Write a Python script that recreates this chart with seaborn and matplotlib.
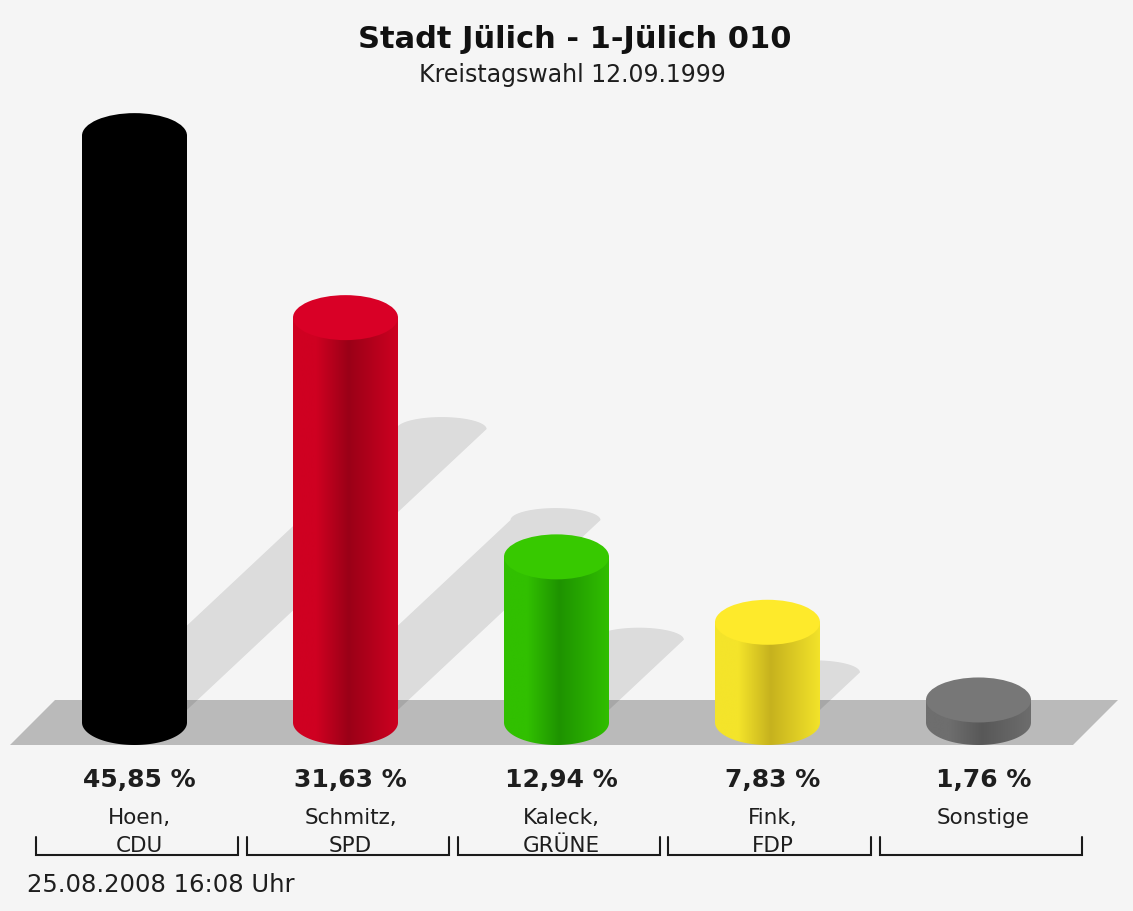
import numpy as np
import matplotlib
matplotlib.use("Agg")
import matplotlib.pyplot as plt
import seaborn as sns
import pandas as pd
from matplotlib.patches import Ellipse, Polygon, PathPatch
from matplotlib.path import Path
from matplotlib.colors import to_rgb

# ---------------- data ----------------
title = "Stadt Jülich - 1-Jülich 010"
subtitle = "Kreistagswahl 12.09.1999"
footer = "25.08.2008 16:08 Uhr"
names = ["Hoen,", "Schmitz,", "Kaleck,", "Fink,", "Sonstige"]
parties = ["CDU", "SPD", "GRÜNE", "FDP", ""]
shares = [45.85, 31.63, 12.94, 7.83, 1.76]
share_labels = ["45,85 %", "31,63 %", "12,94 %", "7,83 %", "1,76 %"]
side_colors = ["#000000", "#cf0021", "#31c000", "#f4e42a", "#6e6e6e"]
dark_colors = ["#000000", "#9a0017", "#1e9300", "#c6b21e", "#585858"]
top_colors = ["#000000", "#d90026", "#37c900", "#feea2b", "#777777"]

# ---------------- layout ----------------
BG = "#f5f5f5"
FLOOR = "#bababa"
TXT = "#1e1e1e"
W, H = 1133, 911
X0, PX = 134.5, 211.0   # pixel x of first category, pixels per category
Y0, PY = 722.5, 12.8    # pixel y of value 0, pixels per percent


def xd(px):
    return (px - X0) / PX


def yd(py):
    return (Y0 - py) / PY


sns.set_theme(style="white")
plt.rcParams["font.family"] = ["DejaVu Sans"]

fig = plt.figure(figsize=(W / 100, H / 100), dpi=100, facecolor=BG)
ax = fig.add_axes([0, 0, 1, 1])
ax.set_facecolor(BG)

keys = [f"{n} {p}".strip() for n, p in zip(names, parties)]
df = pd.DataFrame({"candidate": keys, "share": shares})
sns.barplot(data=df, x="candidate", y="share", hue="candidate",
            palette=side_colors, width=105 / PX, saturation=1,
            legend=False, ax=ax, zorder=3, linewidth=0, edgecolor="none")

bars = sorted([p for p in ax.patches], key=lambda p: p.get_x())

# floor
floor_px = [(55, 700), (1118, 700), (1073, 745), (10, 745)]
ax.add_patch(Polygon([(xd(a), yd(b)) for a, b in floor_px], closed=True,
                     facecolor=FLOOR, edgecolor="none", zorder=1))

# shadows
SLOPE = 1.067
SW = 90.0
for p in bars:
    xc = p.get_x() + p.get_width() / 2
    v = p.get_height()
    hs = 0.5 * v * PY
    c0 = X0 + xc * PX - 6           # shadow centre at value 0
    tc = c0 + SLOPE * hs
    ty = Y0 - hs
    pts = [(c0 - SW / 2, Y0), (c0 + SW / 2, Y0), (tc + SW / 2, ty)]
    t = np.linspace(0, np.pi, 50)
    pts += list(zip(tc + SW / 2 * np.cos(t), ty - 12 * np.sin(t)))
    pts += [(tc - SW / 2, ty)]
    ax.add_patch(Polygon([(xd(a), yd(b)) for a, b in pts], closed=True,
                         facecolor="black", alpha=0.1, edgecolor="none",
                         zorder=2))

# cylinders
EH = 45 / PY
for p, cs, cd, ct in zip(bars, side_colors, dark_colors, top_colors):
    xc = p.get_x() + p.get_width() / 2
    w = p.get_width()
    v = p.get_height()
    left, right = xc - w / 2, xc + w / 2
    t = np.linspace(np.pi, 2 * np.pi, 80)
    verts = [(left, v), (left, 0)]
    verts += list(zip(xc + w / 2 * np.cos(t), EH / 2 * np.sin(t)))
    verts += [(right, v), (left, v)]
    path = Path(verts, closed=True)
    clip = PathPatch(path, transform=ax.transData, facecolor="none",
                     edgecolor="none")
    ax.add_patch(clip)
    s, d = np.array(to_rgb(cs)), np.array(to_rgb(cd))
    mid = s * 0.6 + d * 0.4
    stops = [0.0, 0.22, 0.53, 0.82, 1.0]
    cols = np.array([s, s, d, mid, s * 0.97 + d * 0.03])
    u = np.linspace(0, 1, 256)
    grad = np.stack([np.interp(u, stops, cols[:, k]) for k in range(3)], axis=-1)
    grad = grad[None, :, :]
    im = ax.imshow(grad, extent=[left, right, -EH / 2, v], aspect="auto",
                   interpolation="bilinear", zorder=4)
    im.set_clip_path(clip)
    ax.add_patch(Ellipse((xc, v), w, EH, facecolor=ct, edgecolor="none",
                         zorder=5))

# texts
ax.text(xd(575), yd(48), title, ha="center", va="baseline", fontsize=22,
        fontweight="bold", color="#111111", zorder=6)
ax.text(xd(572), yd(82), subtitle, ha="center", va="baseline", fontsize=17,
        color=TXT, zorder=6)
ax.text(xd(27), yd(892), footer, ha="left", va="baseline", fontsize=17.5,
        color=TXT, zorder=6)

for p, lab, n, pa in zip(bars, share_labels, names, parties):
    xc = p.get_x() + p.get_width() / 2
    tx = xc + 5 / PX
    ax.text(tx, yd(787), lab, ha="center", va="baseline", fontsize=18,
            fontweight="bold", color=TXT, zorder=6)
    ax.text(tx, yd(824), n, ha="center", va="baseline", fontsize=15.5,
            color=TXT, zorder=6)
    if pa:
        ax.text(tx, yd(852), pa, ha="center", va="baseline", fontsize=15.5,
                color=TXT, zorder=6)
    bx = xc + 2 / PX
    hw = 101 / PX
    ax.plot([bx - hw, bx - hw, bx + hw, bx + hw],
            [yd(837), yd(855), yd(855), yd(837)], color="#1a1a1a",
            lw=1.5, solid_joinstyle="miter", zorder=6)

ax.set_xlim(xd(0), xd(W))
ax.set_ylim(yd(H), yd(0))
ax.axis("off")

fig.savefig("out.png", dpi=100, facecolor=BG)
